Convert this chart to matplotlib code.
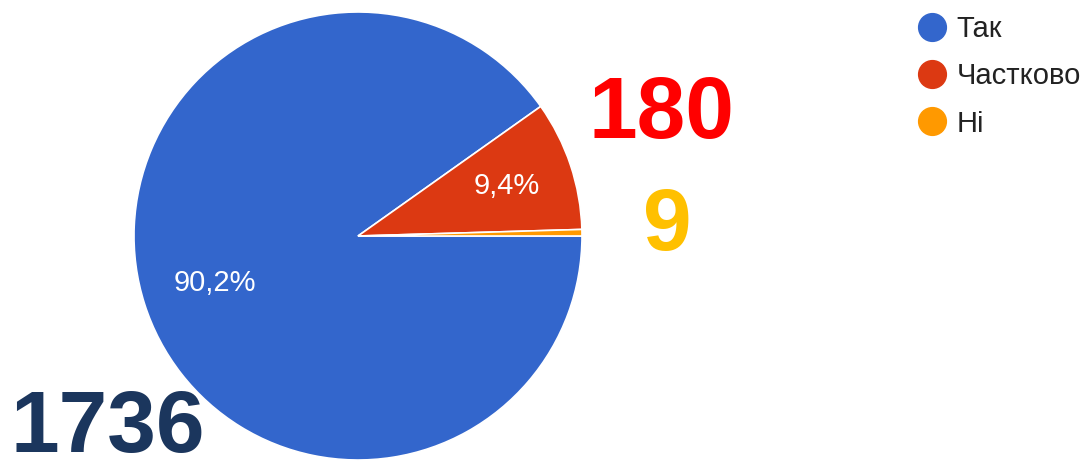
import matplotlib.pyplot as plt
from matplotlib.lines import Line2D

labels = ['Так', 'Частково', 'Ні']
counts = [1736, 180, 9]
colors = ['#3366CC', '#DC3912', '#FF9900']
count_colors = ['#1B365D', '#FF0000', '#FFC000']

total = sum(counts)

fig = plt.figure(figsize=(10.87, 4.62), dpi=100)
W, H = 1087, 462
cx, cy, r = 358, 236, 224
ax = fig.add_axes([(cx - r) / W, (H - cy - r) / H, 2 * r / W, 2 * r / H])


def fmt(p):
    if p < 5:
        return ''
    return ('%.1f%%' % p).replace('.', ',')


wedges, texts, autotexts = ax.pie(counts, colors=colors, startangle=0, counterclock=False,
                                  autopct=fmt, pctdistance=0.70, radius=1,
                                  wedgeprops=dict(edgecolor='white', linewidth=1.2),
                                  textprops=dict(color='white', fontsize=21, family='Liberation Sans'))
# google puts the big slice label off its middle
autotexts[0].set_position((-0.64, -0.21))
ax.set_xlim(-1, 1)
ax.set_ylim(-1, 1)
ax.set_aspect('equal')
ax.axis('off')

# big counts
big = dict(fontsize=63, fontweight='bold', family='Liberation Sans')
fig.text(10 / W, 1 - 452 / H, str(counts[0]), color=count_colors[0], ha='left', va='baseline', **big)
fig.text(588 / W, 1 - 138 / H, str(counts[1]), color=count_colors[1], ha='left', va='baseline', **big)
fig.text(643 / W, 1 - 250 / H, str(counts[2]), color=count_colors[2], ha='left', va='baseline', **big)

handles = [Line2D([], [], marker='o', linestyle='', markersize=20,
                  markerfacecolor=c, markeredgecolor=c) for c in colors]
fig.legend(handles, labels, loc='upper left', bbox_to_anchor=(917 / W, 1 - 15 / H),
           frameon=False, labelspacing=0.66, handletextpad=0.35,
           handlelength=1.0, borderaxespad=0, borderpad=0,
           prop=dict(family='Liberation Sans', size=21), labelcolor='#222222')

fig.savefig('out.png', dpi=100)
